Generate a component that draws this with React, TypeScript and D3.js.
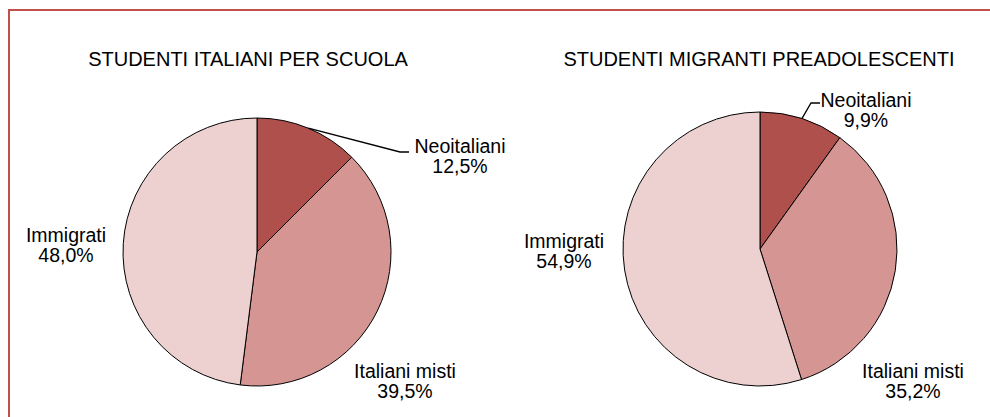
import React from "react";
import * as d3 from "d3";

const categories = ["Neoitaliani", "Italiani misti", "Immigrati"];
const titles = ["STUDENTI ITALIANI PER SCUOLA", "STUDENTI MIGRANTI PREADOLESCENTI"];
const seriesScuola = [12.5, 39.5, 48.0];
const seriesPreadolescenti = [9.9, 35.2, 54.9];
const colors = ["#b0504c", "#d49593", "#edd1d1"];

const W = 990;
const H = 417;
const FONT = "'Liberation Sans', Arial, Helvetica, sans-serif";

type Layout = {
  cx: number;
  cy: number;
  r: number;
  titleX: number;
  labels: { dx: number; dy: number }[];
  elbow: { dx: number; dy: number };
};

const layouts: Layout[] = [
  {
    cx: 257,
    cy: 252,
    r: 134,
    titleX: 248,
    labels: [
      { dx: 203, dy: -99 },
      { dx: 148, dy: 126 },
      { dx: -191, dy: -10 },
    ],
    elbow: { dx: 143, dy: -100 },
  },
  {
    cx: 760,
    cy: 249,
    r: 137,
    titleX: 759,
    labels: [
      { dx: 106, dy: -142 },
      { dx: 153, dy: 129 },
      { dx: -196, dy: -1 },
    ],
    elbow: { dx: 51, dy: -146 },
  },
];

const fmt = (v: number) => v.toFixed(1).replace(".", ",") + "%";

function Pie({ values, layout, title }: { values: number[]; layout: Layout; title: string }) {
  const { cx, cy, r } = layout;
  const pie = d3.pie<number>().sort(null).value((d) => d);
  const arcs = pie(values);
  const arc = d3.arc<d3.PieArcDatum<number>>().innerRadius(0).outerRadius(r);
  const first = arcs[0];
  const mid = (first.startAngle + first.endAngle) / 2;
  const sx = cx + r * Math.sin(mid);
  const sy = cy - r * Math.cos(mid);
  const ex = cx + layout.elbow.dx;
  const ey = cy + layout.elbow.dy;
  return (
    <g>
      <text x={layout.titleX} y={66} textAnchor="middle" fontSize={20} fontFamily={FONT} fill="#000">
        {title}
      </text>
      <g transform={`translate(${cx},${cy})`}>
        {arcs.map((a, i) => (
          <path key={i} d={arc(a) || ""} fill={colors[i]} stroke="#000" strokeWidth={1} />
        ))}
      </g>
      <path d={`M${sx},${sy}L${ex},${ey}L${ex + 9},${ey}`} fill="none" stroke="#000" strokeWidth={1.3} />
      {arcs.map((a, i) => {
        const lx = cx + layout.labels[i].dx;
        const ly = cy + layout.labels[i].dy;
        return (
          <text key={i} textAnchor="middle" fontSize={19.5} fontFamily={FONT} fill="#000">
            <tspan x={lx} y={ly}>{categories[i]}</tspan>
            <tspan x={lx} y={ly + 20}>{fmt(values[i])}</tspan>
          </text>
        );
      })}
    </g>
  );
}

export default function App() {
  return (
    <svg
      width={W}
      height={H}
      style={{ position: "absolute", left: 0, top: 0, background: "#fff" }}
    >
      <rect x={0} y={0} width={W} height={H} fill="#fff" />
      <rect x={9} y={10} width={W + 20} height={H + 20} fill="none" stroke="#c0504d" strokeWidth={2} />
      <Pie values={seriesScuola} layout={layouts[0]} title={titles[0]} />
      <Pie values={seriesPreadolescenti} layout={layouts[1]} title={titles[1]} />
    </svg>
  );
}
